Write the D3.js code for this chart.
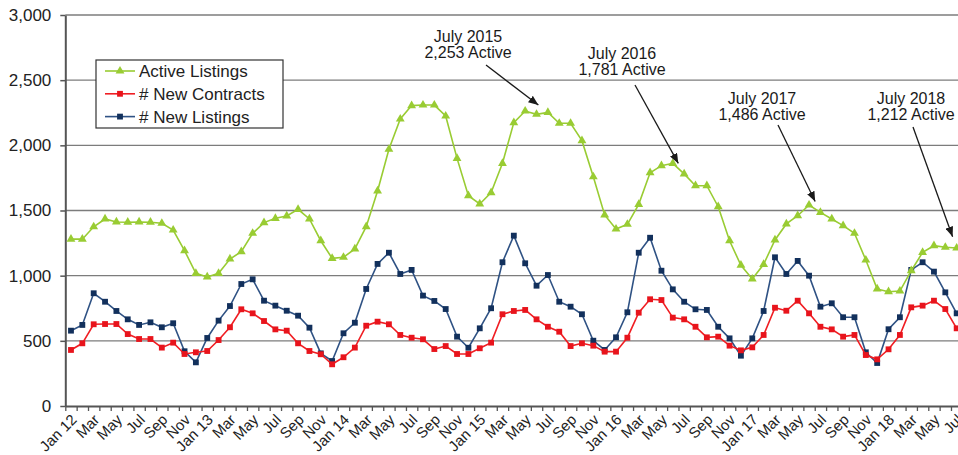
<!DOCTYPE html>
<html>
<head>
<meta charset="utf-8">
<script src="https://cdn.jsdelivr.net/npm/d3@7"></script>
<style>
  html, body { margin: 0; padding: 0; background: #fff; }
  svg { display: block; font-family: "Liberation Sans", Arial, Helvetica, sans-serif; }
</style>
</head>
<body>
<svg id="chart" width="958" height="455"></svg>
<script>
// Monthly figures, Jan 2012 through Jul 2018
const activeListings = [
  1280, 1280, 1375, 1435, 1412, 1410, 1412, 1410, 1402, 1350, 1192, 1018,
  990, 1018, 1128, 1184, 1325, 1407, 1440, 1458, 1509, 1435, 1268, 1133,
  1141, 1205, 1376, 1650, 1970, 2202, 2305, 2309, 2309, 2225, 1900, 1614,
  1550, 1637, 1862, 2174, 2263, 2238, 2253, 2169, 2169, 2036, 1759, 1466,
  1358, 1394, 1547, 1790, 1844, 1862, 1781, 1690, 1690, 1529, 1268, 1080,
  974, 1087, 1274, 1397, 1460, 1542, 1486, 1435, 1384, 1325, 1120, 898,
  877, 882, 1038, 1179, 1230, 1218, 1212
];
const newContracts = [
  430, 481, 627, 629, 629, 552, 514, 514, 448, 486, 399, 412,
  422, 506, 604, 742, 711, 652, 588, 578, 481, 422, 397, 320,
  374, 448, 616, 647, 627, 545, 524, 512, 437, 460, 399, 399,
  443, 486, 704, 729, 737, 665, 608, 570, 460, 481, 463, 417,
  417, 524, 716, 819, 813, 678, 665, 608, 527, 532, 463, 427,
  450, 545, 754, 731, 808, 711, 608, 588, 532, 545, 391, 358,
  435, 545, 757, 770, 808, 744, 596
];
const newListings = [
  578, 622, 865, 800, 729, 665, 622, 642, 604, 635, 420, 335,
  522, 655, 767, 936, 972, 808, 770, 731, 693, 601, 404, 345,
  558, 639, 898, 1090, 1176, 1013, 1044, 847, 806, 744, 532, 447,
  596, 750, 1103, 1307, 1095, 923, 1005, 800, 762, 704, 501, 430,
  527, 719, 1176, 1291, 1038, 895, 800, 742, 737, 608, 519, 386,
  519, 729, 1141, 1013, 1113, 1000, 762, 788, 681, 681, 412, 330,
  589, 681, 1044, 1103, 1031, 872, 711
];

// Every second month is labelled on the category axis
const tickLabels = [
  "Jan 12", "Mar", "May", "Jul", "Sep", "Nov",
  "Jan 13", "Mar", "May", "Jul", "Sep", "Nov",
  "Jan 14", "Mar", "May", "Jul", "Sep", "Nov",
  "Jan 15", "Mar", "May", "Jul", "Sep", "Nov",
  "Jan 16", "Mar", "May", "Jul", "Sep", "Nov",
  "Jan 17", "Mar", "May", "Jul", "Sep", "Nov",
  "Jan 18", "Mar", "May", "Jul"
];
const yTicks = [0, 500, 1000, 1500, 2000, 2500, 3000];

const seriesNames = ["Active Listings", "# New Contracts", "# New Listings"];

// July call-outs: month index and the active count quoted in the label
const calloutMonths = [42, 54, 66, 78];
const calloutTitles = ["July 2015", "July 2016", "July 2017", "July 2018"];
const calloutValues = [2253, 1781, 1486, 1212];

// ---- layout ----
const W = 958, H = 455;
const plotLeft = 65.3, step = 11.355, plotTop = 15, plotBottom = 406;
const n = activeListings.length;

const x = d3.scaleBand()
  .domain(d3.range(n))
  .range([plotLeft, plotLeft + step * n])
  .padding(0);
const cx = i => x(i) + x.bandwidth() / 2;
const xEdge = d3.scaleLinear().domain([0, n]).range([plotLeft, plotLeft + step * n]);
const y = d3.scaleLinear().domain([0, 3000]).range([plotBottom, plotTop]);

const svg = d3.select("#chart");
const FONT = '"Liberation Sans", Arial, Helvetica, sans-serif';

const defs = svg.append("defs");
defs.append("marker")
  .attr("id", "arrowHead")
  .attr("viewBox", "0 0 10 8")
  .attr("refX", 10).attr("refY", 4)
  .attr("markerWidth", 10).attr("markerHeight", 8)
  .attr("markerUnits", "userSpaceOnUse")
  .attr("orient", "auto")
  .append("path").attr("d", "M0,0 L10,4 L0,8 Z").attr("fill", "#1a1a1a");

// horizontal gridlines
svg.append("g").attr("class", "grid")
  .selectAll("line")
  .data(yTicks.filter(d => d > 0))
  .join("line")
  .attr("x1", plotLeft).attr("x2", W + 10)
  .attr("y1", d => y(d)).attr("y2", d => y(d))
  .attr("stroke", "#7c7c7c").attr("stroke-width", 1.4);

// value axis
const yAxis = svg.append("g")
  .attr("transform", `translate(${plotLeft},0)`)
  .call(d3.axisLeft(y).tickValues(yTicks).tickFormat(d3.format(",")).tickSize(5).tickSizeOuter(0).tickPadding(9));
yAxis.attr("font-family", FONT).attr("font-size", 17);
yAxis.select(".domain").attr("stroke", "#555").attr("stroke-width", 2);
yAxis.selectAll(".tick line").attr("stroke", "#555").attr("stroke-width", 1.5);
yAxis.selectAll(".tick text").attr("fill", "#222");

// category axis: tick marks between months
const xTicks = svg.append("g")
  .attr("transform", `translate(0,${plotBottom})`)
  .call(d3.axisBottom(xEdge).tickValues(d3.range(n + 1)).tickFormat("").tickSize(5).tickSizeOuter(0));
xTicks.select(".domain").attr("stroke", "#555").attr("stroke-width", 2);
xTicks.selectAll(".tick line").attr("stroke", "#555").attr("stroke-width", 1.3);

// category axis: rotated month labels
const labelIdx = d3.range(0, n, 2);
const xLabels = svg.append("g")
  .attr("transform", `translate(0,${plotBottom})`)
  .call(d3.axisBottom(x).tickValues(labelIdx).tickFormat(i => tickLabels[i / 2]).tickSize(0));
xLabels.select(".domain").remove();
xLabels.attr("font-family", FONT).attr("font-size", 15);
xLabels.selectAll(".tick text")
  .attr("fill", "#222")
  .attr("x", 0).attr("y", 0).attr("dy", "0.35em")
  .attr("text-anchor", "end")
  .attr("transform", "translate(3,11) rotate(-45)");

// series
const series = [
  { name: seriesNames[0], values: activeListings, line: "#99cc33", fill: "#99cc33", shape: d3.symbolTriangle, size: 34 },
  { name: seriesNames[1], values: newContracts, line: "#f01e23", fill: "#e8141c", shape: d3.symbolSquare, size: 34 },
  { name: seriesNames[2], values: newListings, line: "#2f5284", fill: "#12305c", shape: d3.symbolSquare, size: 34 }
];

const line = d3.line().x((d, i) => cx(i)).y(d => y(d));

// draw in back-to-front order: listings, contracts, active
[series[2], series[1], series[0]].forEach(s => {
  const g = svg.append("g");
  g.append("path")
    .datum(s.values)
    .attr("d", line)
    .attr("fill", "none")
    .attr("stroke", s.line)
    .attr("stroke-width", 1.6);
  g.selectAll("path.pt")
    .data(s.values)
    .join("path")
    .attr("class", "pt")
    .attr("transform", (d, i) => `translate(${cx(i)},${y(d)})`)
    .attr("d", d3.symbol(s.shape, s.size))
    .attr("fill", s.fill);
});

// legend
const legend = svg.append("g");
legend.append("rect")
  .attr("x", 96).attr("y", 60).attr("width", 187).attr("height", 68)
  .attr("fill", "#fff").attr("stroke", "#333").attr("stroke-width", 1.2);
series.forEach((s, k) => {
  const ly = 71 + k * 22.8;
  legend.append("line")
    .attr("x1", 105).attr("x2", 135).attr("y1", ly).attr("y2", ly)
    .attr("stroke", s.line).attr("stroke-width", 1.6);
  legend.append("path")
    .attr("transform", `translate(120,${ly})`)
    .attr("d", d3.symbol(s.shape, s.size))
    .attr("fill", s.fill);
  legend.append("text")
    .attr("x", 139).attr("y", ly).attr("dy", "0.35em")
    .attr("font-family", FONT).attr("font-size", 17).attr("fill", "#222")
    .text(s.name);
});

// call-outs
const calloutText = [
  { tx: 468, ty: 36, sx: 486, sy: 65 },
  { tx: 622, ty: 53, sx: 635, sy: 85 },
  { tx: 762, ty: 98, sx: 778, sy: 125 },
  { tx: 911, ty: 98, sx: 913, sy: 127 }
];
calloutMonths.forEach((m, k) => {
  const pos = calloutText[k];
  const g = svg.append("g").attr("font-family", FONT).attr("font-size", 16).attr("fill", "#1a1a1a");
  g.append("text").attr("x", pos.tx).attr("y", pos.ty).attr("dy", "0.35em")
    .attr("text-anchor", "middle").text(calloutTitles[k]);
  g.append("text").attr("x", pos.tx).attr("y", pos.ty + 16).attr("dy", "0.35em")
    .attr("text-anchor", "middle").text(d3.format(",")(calloutValues[k]) + " Active");
  const px = cx(m), py = y(activeListings[m]);
  const dx = px - pos.sx, dy = py - pos.sy, len = Math.hypot(dx, dy);
  const gap = 12;
  g.append("line")
    .attr("x1", pos.sx).attr("y1", pos.sy)
    .attr("x2", px - dx / len * gap).attr("y2", py - dy / len * gap)
    .attr("stroke", "#1a1a1a").attr("stroke-width", 1.3)
    .attr("marker-end", "url(#arrowHead)");
});
</script>
</body>
</html>
